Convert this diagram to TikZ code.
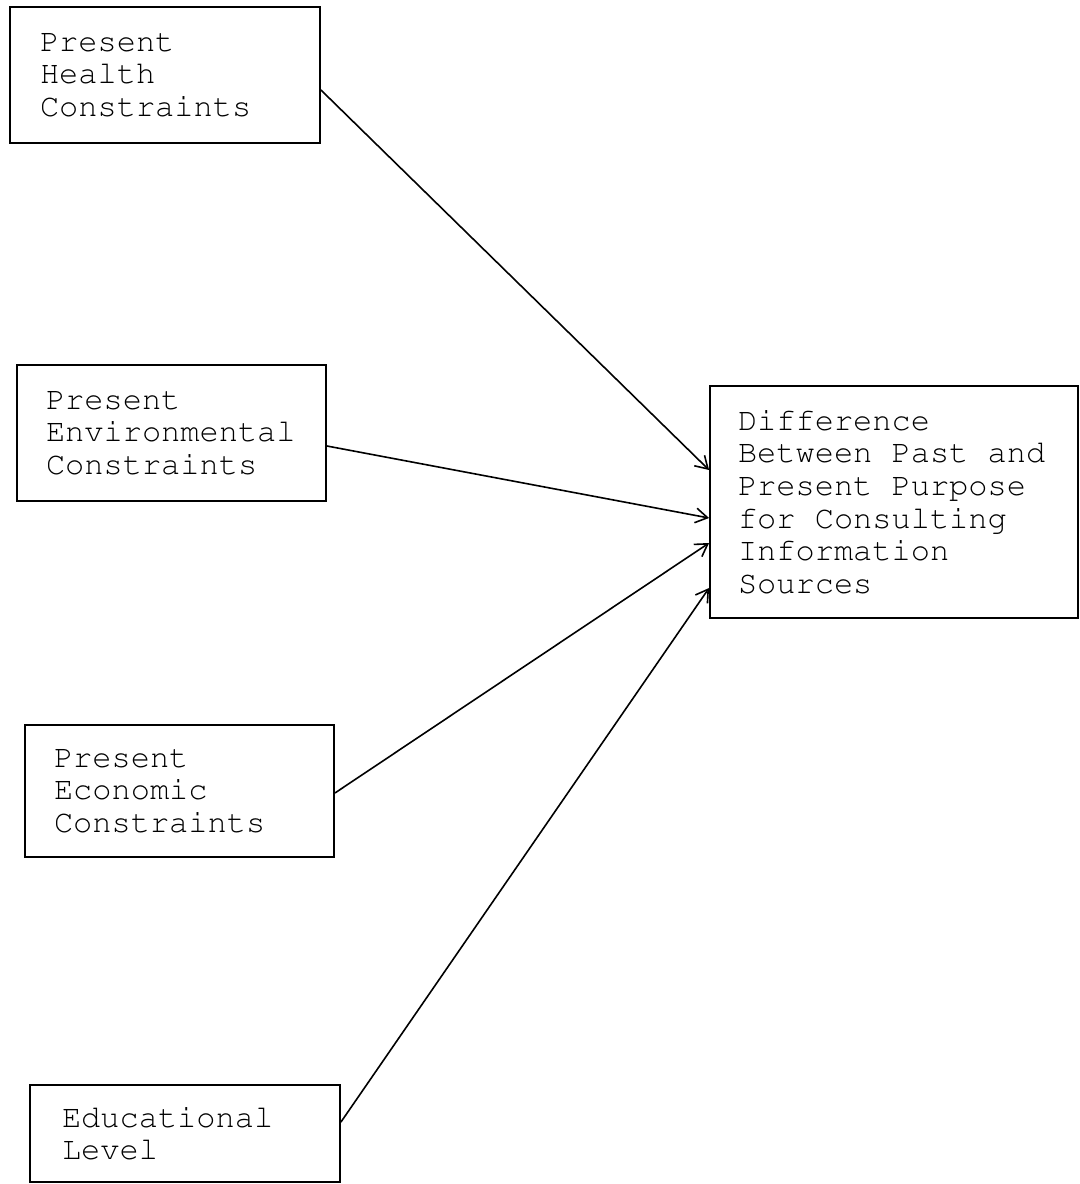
\documentclass[tikz,border=0pt]{standalone}
\usepackage[T1]{fontenc}
\usetikzlibrary{arrows.meta}
\newcommand\myboxfont{\fontfamily{pcr}\fontseries{m}\fontsize{24}{24.5}\selectfont}
\newcommand\tsp{\hspace{14.4pt}}
\begin{document}
\begin{tikzpicture}[x=0.75pt,y=-0.75pt,
  box/.style={draw, line width=1.4pt, inner sep=0pt, align=left, font=\myboxfont},
  conn/.style={line width=1.2pt, -{Straight Barb[length=9pt,width=11pt,line width=1.2pt]}}]
\useasboundingbox (0,0) rectangle (1080,1184);
\node[box, minimum width=232.5pt, minimum height=102pt, text width=187.5pt] (h) at (165,75) {Present\\Health\\Constraints};
\node[box, minimum width=231.75pt, minimum height=102pt, text width=188.25pt] (e) at (171.5,433) {Present\\Environmental\\Constraints};
\node[box, minimum width=231.75pt, minimum height=99pt, text width=188.25pt] (c) at (179.5,791) {Present\\Economic\\Constraints};
\node[box, minimum width=232.5pt, minimum height=72.75pt, text width=184.5pt] (l) at (185,1133.5) {Educational\\Level};
\node[box, minimum width=276pt, minimum height=174pt, text width=234pt] (d) at (894,502) {Difference\\Between\tsp Past\tsp and\\Present\tsp Purpose\\for\tsp Consulting\\Information\\Sources};
\draw[conn] ([yshift=-11.25pt]h.east) -- ([yshift=24pt]d.west);
\draw[conn] ([yshift=-9.75pt]e.east) -- ([yshift=-12pt]d.west);
\draw[conn] ([yshift=-1.5pt]c.east) -- ([yshift=-30.75pt]d.west);
\draw[conn] ([yshift=8.6pt]l.east) -- ([yshift=-64.5pt]d.west);
\end{tikzpicture}
\end{document}
